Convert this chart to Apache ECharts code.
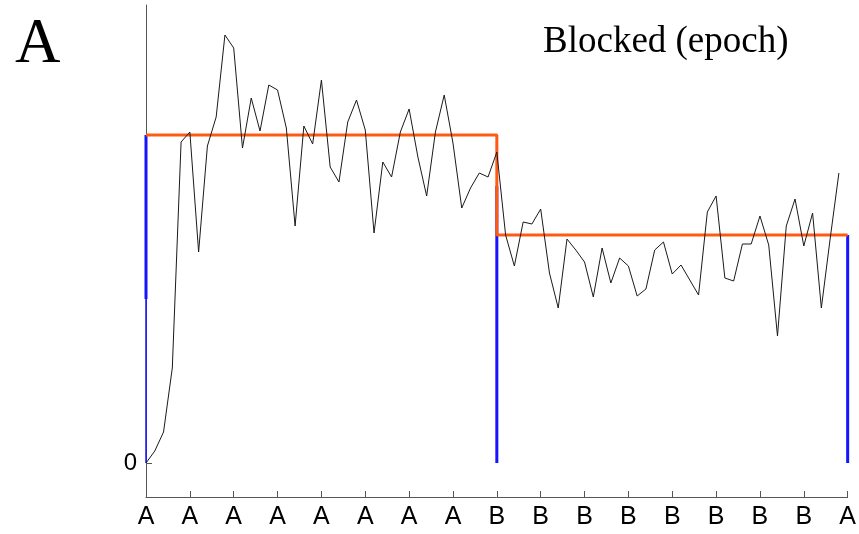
<!DOCTYPE html>
<html>
<head>
<meta charset="utf-8">
<script src="https://cdn.jsdelivr.net/npm/echarts@6/dist/echarts.min.js"></script>
<style>html,body{margin:0;padding:0;background:#fff;}#c{width:859px;height:534px;}</style>
</head>
<body>
<div id="c"></div>
<script>
// Tick labels along the x axis (one every 5 trials)
var tickLabels = ['A','A','A','A','A','A','A','A','B','B','B','B','B','B','B','B','A'];
// Trial-by-trial response (black line), trial index 0..79
var response = [0,0.12,0.31,0.95,3.21,3.31,2.11,3.17,3.46,4.28,
  4.15,3.15,3.65,3.32,3.78,3.73,3.35,2.37,3.37,3.19,
  3.83,2.96,2.81,3.41,3.63,3.33,2.30,3.01,2.86,3.31,
  3.54,3.06,2.67,3.31,3.68,3.20,2.55,2.75,2.90,2.86,
  3.11,2.28,1.97,2.41,2.39,2.54,1.90,1.55,2.24,2.13,
  2.01,1.66,2.15,1.80,2.05,1.97,1.67,1.74,2.13,2.21,
  1.89,1.98,1.83,1.68,2.51,2.67,1.85,1.82,2.19,2.19,
  2.47,2.18,1.27,2.37,2.64,2.17,2.50,1.55,2.24,2.90];
// Block model (orange step): level per block
var blockStarts = [0, 40];
var blockEnds = [40, 80];
var blockLevels = [3.28, 2.28];
// Blue stems at block boundaries
var stemX = [0, 40, 80];
var stemTop = [3.28, 2.77, 2.28];

var lineData = response.map(function(v,i){return [i,v];});
var orangeData = [];
for (var b=0;b<blockLevels.length;b++){
  orangeData.push([blockStarts[b], blockLevels[b]]);
  orangeData.push([blockEnds[b], blockLevels[b]]);
}
var series = [];
var blue = '#1414ff';
// stem at 0: thinner lower part, thicker upper part (as in reference)
series.push({type:'line', data:[[stemX[0],0],[stemX[0],stemTop[0]/2]], showSymbol:false, clip:false, silent:true,
  lineStyle:{color:blue, width:1.5}, z:3});
series.push({type:'line', data:[[stemX[0],stemTop[0]/2],[stemX[0],stemTop[0]]], showSymbol:false, clip:false, silent:true,
  lineStyle:{color:blue, width:3}, z:3});
for (var s=1;s<stemX.length;s++){
  series.push({type:'line', data:[[stemX[s],0],[stemX[s],stemTop[s]]], showSymbol:false, clip:false, silent:true,
    lineStyle:{color:blue, width:3}, z:3});
}
series.push({type:'line', data:orangeData, showSymbol:false, clip:false, silent:true,
  lineStyle:{color:'#ff5a14', width:3}, z:4});
series.push({type:'line', data:lineData, showSymbol:false, clip:false, silent:true,
  lineStyle:{color:'#1a1a1a', width:1}, z:5});

var chart = echarts.init(document.getElementById('c'), null, {renderer:'canvas'});
chart.setOption({
  animation:false,
  backgroundColor:'#fff',
  title:[
    {text:'A', left:10, top:9, textStyle:{fontFamily:'Liberation Serif, Times New Roman, serif', fontSize:63, fontWeight:'normal', color:'#000'}},
    {text:'Blocked (epoch)', left:538, top:19, textStyle:{fontFamily:'Liberation Serif, Times New Roman, serif', fontSize:37, fontWeight:'normal', color:'#000'}}
  ],
  grid:{left:146, right:11, top:5, bottom:37, containLabel:false},
  xAxis:{type:'value', min:0, max:80, interval:5,
    axisLine:{show:true, onZero:false, lineStyle:{color:'#555', width:1}},
    axisTick:{show:true, inside:true, length:6, lineStyle:{color:'#555'}},
    splitLine:{show:false},
    axisLabel:{margin:8, fontFamily:'Liberation Sans, Arial, sans-serif', fontSize:25, color:'#000',
      formatter:function(v){return tickLabels[Math.round(v/5)] || '';}}
  },
  yAxis:{type:'value', min:-0.34, max:4.58,
    axisLine:{show:true, lineStyle:{color:'#555', width:1}},
    axisTick:{show:true, inside:true, length:6, customValues:[0], lineStyle:{color:'#555'}},
    splitLine:{show:false},
    axisLabel:{margin:9, customValues:[0], fontFamily:'Liberation Sans, Arial, sans-serif', fontSize:24, color:'#000'}
  },
  series:series
});
</script>
</body>
</html>
